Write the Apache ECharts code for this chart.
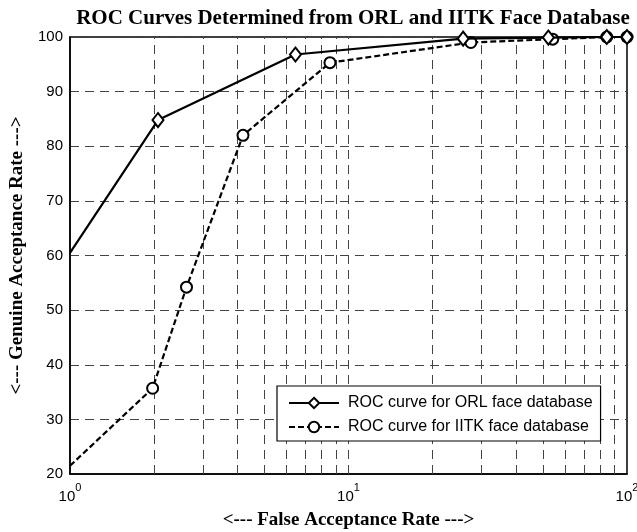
<!DOCTYPE html>
<html>
<head>
<meta charset="utf-8">
<script src="https://cdn.jsdelivr.net/npm/echarts@6/dist/echarts.min.js"></script>
<style>html,body{margin:0;padding:0;background:#fff}#c{width:637px;height:532px}</style>
</head>
<body>
<div id="c"></div>
<script>
// Data
var orlFar = [1, 2.07, 6.45, 25.8, 52.2, 84.6, 100];
var orlGar = [60.5, 84.8, 96.8, 99.7, 99.9, 100, 100];
var iitkFar = [1, 1.98, 2.62, 4.18, 8.58, 27.5, 54.1, 84.6, 100];
var iitkGar = [21.5, 35.7, 54.2, 82.0, 95.3, 99.0, 99.6, 100, 100];
var xGridValues = [2, 3, 4, 5, 6, 7, 8, 9, 10, 20, 30, 40, 50, 60, 70, 80, 90];
var seriesNames = ['ROC curve for ORL face database', 'ROC curve for IITK face database'];
var titleText = 'ROC Curves Determined from ORL and IITK Face Database';
var xName = '<--- False Acceptance Rate --->';
var yName = '<--- Genuine Acceptance Rate --->';

// the curves enter the plot at its left edge without a marker there
function pairs(xs, ys) {
  return xs.map(function (x, i) {
    return i === 0 ? {value: [x, ys[i]], symbol: 'none'} : [x, ys[i]];
  });
}

var sans = "Arial, 'Liberation Sans', Helvetica, sans-serif";
var serif = "'Times New Roman', 'Liberation Serif', serif";
var gridDash = [9, 6];
var gridColor = '#444';

var chart = echarts.init(document.getElementById('c'), null, {renderer: 'canvas'});
chart.setOption({
  backgroundColor: '#fff',
  animation: false,
  title: {
    text: titleText,
    left: 348, top: 3, textAlign: 'center',
    textStyle: {fontFamily: serif, fontWeight: 'bold', fontSize: 21, color: '#000'}
  },
  grid: {
    left: 70, right: 10, top: 37, bottom: 58,
    show: true, borderColor: '#000', borderWidth: 1.5, backgroundColor: 'transparent',
    outerBoundsMode: 'none', containLabel: false
  },
  legend: {
    data: seriesNames,
    orient: 'vertical',
    left: 277, top: 386, z: 100, zlevel: 1,
    backgroundColor: '#fff',
    borderColor: '#000', borderWidth: 1.2, borderRadius: 0,
    padding: [9, 8, 6, 11],
    itemGap: 8, itemWidth: 50, itemHeight: 13,
    textStyle: {fontFamily: sans, fontSize: 16, color: '#000', padding: [0, 0, 0, 4]}
  },
  xAxis: {
    type: 'log', logBase: 10, min: 1, max: 100,
    name: xName, nameLocation: 'middle', nameGap: 37,
    nameTextStyle: {fontFamily: serif, fontWeight: 'bold', fontSize: 19, color: '#000'},
    axisLine: {show: true, lineStyle: {color: '#000', width: 1.5}},
    axisTick: {show: false},
    splitLine: {show: false},
    minorTick: {show: false}, minorSplitLine: {show: false},
    axisLabel: {
      margin: 8, color: '#000',
      formatter: function (v) { return '{b|10}{s|' + Math.round(Math.log10(v)) + '}'; },
      rich: {
        b: {fontFamily: sans, fontSize: 15, color: '#000', lineHeight: 22, verticalAlign: 'bottom'},
        s: {fontFamily: sans, fontSize: 11, color: '#000', lineHeight: 11, verticalAlign: 'top'}
      }
    }
  },
  yAxis: {
    type: 'value', min: 20, max: 100, interval: 10,
    name: yName, nameLocation: 'middle', nameGap: 33,
    nameTextStyle: {fontFamily: serif, fontWeight: 'bold', fontSize: 19, color: '#000'},
    axisLine: {show: true, lineStyle: {color: '#000', width: 1.5}},
    axisTick: {show: false},
    axisLabel: {margin: 7, fontFamily: sans, fontSize: 15, color: '#000'},
    splitLine: {show: true, lineStyle: {color: gridColor, width: 1, type: gridDash}}
  },
  series: [
    {
      name: 'grid', type: 'line', data: [], silent: true, z: 1,
      markLine: {
        silent: true, symbol: ['none', 'none'], label: {show: false}, z: 1,
        lineStyle: {color: gridColor, width: 1, type: gridDash},
        data: xGridValues.map(function (v) { return {xAxis: v}; })
      }
    },
    {
      name: seriesNames[1], type: 'line', data: pairs(iitkFar, iitkGar),
      symbol: 'circle', symbolSize: 11, showAllSymbol: true, z: 3,
      lineStyle: {color: '#000', width: 2.2, type: [6, 3]},
      itemStyle: {color: '#fff', borderColor: '#000', borderWidth: 2}
    },
    {
      name: seriesNames[0], type: 'line', data: pairs(orlFar, orlGar),
      symbol: 'diamond', symbolSize: [11, 14], showAllSymbol: true, z: 4,
      lineStyle: {color: '#000', width: 2.2, type: 'solid'},
      itemStyle: {color: '#fff', borderColor: '#000', borderWidth: 2}
    }
  ]
});
</script>
</body>
</html>
